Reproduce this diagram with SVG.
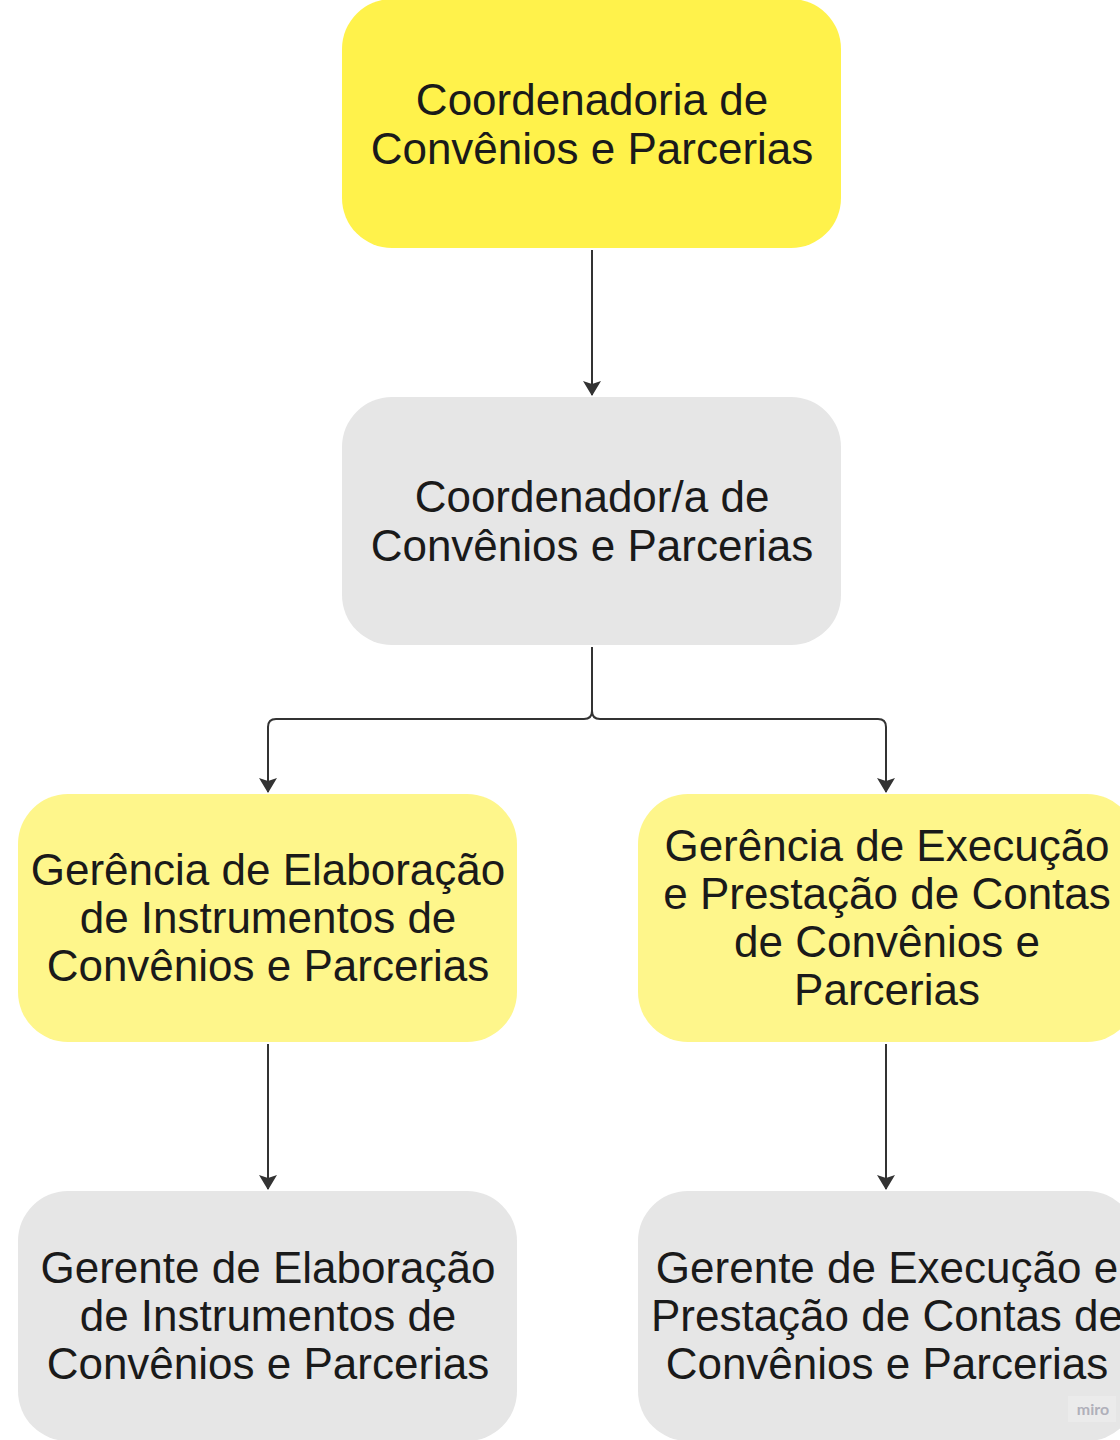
<svg xmlns="http://www.w3.org/2000/svg" width="1120" height="1440" viewBox="0 0 1120 1440">
<defs>
<style>
.t{font-family:"Liberation Sans",Arial,sans-serif;font-size:44px;fill:#1a1a1a;text-anchor:middle}
.y1{fill:#FFF24B}
.y2{fill:#FEF68B}
.g{fill:#E6E6E6}
.c{fill:none;stroke:#333333;stroke-width:2}
</style>
<marker id="ah" markerWidth="16" markerHeight="18" refX="14" refY="9" orient="auto" markerUnits="userSpaceOnUse">
<path d="M0,0 L15,9 L0,18 L3,9 Z" fill="#333333"/>
</marker>
</defs>
<rect width="1120" height="1440" fill="#ffffff"/>
<g id="connectors">
<path class="c" d="M592,250 V395" marker-end="url(#ah)"/>
<path class="c" d="M592,647 V711 Q592,719 584,719 H276 Q268,719 268,727 V792" marker-end="url(#ah)"/>
<path class="c" d="M592,647 V711 Q592,719 600,719 H878 Q886,719 886,727 V792" marker-end="url(#ah)"/>
<path class="c" d="M268,1044 V1189" marker-end="url(#ah)"/>
<path class="c" d="M886,1044 V1189" marker-end="url(#ah)"/>
</g>
<g id="node-coordenadoria">
<rect class="y1" x="342" y="-1" width="499" height="249" rx="50"/>
<text class="t" x="592" y="115">Coordenadoria de</text>
<text class="t" x="592" y="164">Convênios e Parcerias</text>
</g>
<g id="node-coordenador">
<rect class="g" x="342" y="397" width="499" height="248" rx="50"/>
<text class="t" x="592" y="512">Coordenador/a de</text>
<text class="t" x="592" y="561">Convênios e Parcerias</text>
</g>
<g id="node-gerencia-elaboracao">
<rect class="y2" x="18" y="794" width="499" height="248" rx="50"/>
<text class="t" x="268" y="885">Gerência de Elaboração</text>
<text class="t" x="268" y="933">de Instrumentos de</text>
<text class="t" x="268" y="981">Convênios e Parcerias</text>
</g>
<g id="node-gerencia-execucao">
<rect class="y2" x="638" y="794" width="499" height="248" rx="50"/>
<text class="t" x="887" y="861">Gerência de Execução</text>
<text class="t" x="887" y="909">e Prestação de Contas</text>
<text class="t" x="887" y="957">de Convênios e</text>
<text class="t" x="887" y="1005">Parcerias</text>
</g>
<g id="node-gerente-elaboracao">
<rect class="g" x="18" y="1191" width="499" height="250" rx="50"/>
<text class="t" x="268" y="1283">Gerente de Elaboração</text>
<text class="t" x="268" y="1331">de Instrumentos de</text>
<text class="t" x="268" y="1379">Convênios e Parcerias</text>
</g>
<g id="node-gerente-execucao">
<rect class="g" x="638" y="1191" width="499" height="250" rx="50"/>
<text class="t" x="887" y="1283">Gerente de Execução e</text>
<text class="t" x="887" y="1331">Prestação de Contas de</text>
<text class="t" x="887" y="1379">Convênios e Parcerias</text>
</g>
<g id="watermark">
<rect x="1068" y="1396" width="48" height="26" fill="#EBEBEB"/>
<text x="1093" y="1415" font-family="Lato,'Liberation Sans',sans-serif" font-size="16" font-weight="bold" fill="#B0B0BA" text-anchor="middle">miro</text>
</g>
</svg>
